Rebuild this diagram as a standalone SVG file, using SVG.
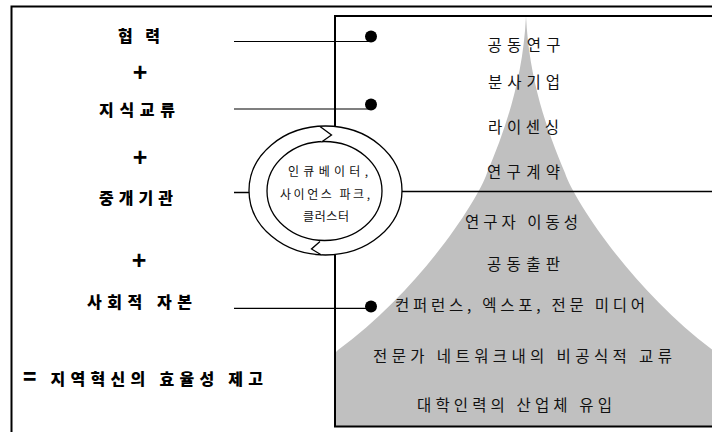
<svg xmlns="http://www.w3.org/2000/svg" width="712" height="432" viewBox="0 0 712 432">
<style>
.ln{stroke:#000;fill:none}
.lbl{font-family:"Noto Sans CJK KR","Noto Sans",sans-serif;font-weight:900;font-size:16px;fill:#000}
.plus{font-family:"Liberation Sans","DejaVu Sans",sans-serif;font-weight:900;font-size:25px;fill:#000;text-anchor:middle}
.it{font-family:"Noto Sans CJK KR","Noto Sans",sans-serif;font-size:15.5px;fill:#111;text-anchor:middle}
.ct{font-family:"Noto Sans CJK KR","Noto Sans",sans-serif;font-size:12px;fill:#111;text-anchor:middle}
.dot{fill:#000}
</style>
<rect width="712" height="432" fill="#fff"/>
<!-- outer frame -->
<path class="ln" stroke-width="2" d="M11.5,434 V6.5 H714"/>
<!-- gray mountain -->
<path id="mountain" fill="#c0c0c0" d="M526,16 C523,80 505,130 487,173 C478,200 420,290 338,350 L336,352 V426 H714 V351 C632,290 574,200 565,173 C547,130 529,80 526,16 Z"/>
<!-- inner box -->
<path class="ln" stroke-width="2" d="M714,16 H335 V126 M335,255 V426.5 H714"/>
<g id="connectors">
<path class="ln" stroke-width="1.2" d="M234,41.5 H371"/>
<path class="ln" stroke-width="1.2" d="M234,109 H371"/>
<path class="ln" stroke-width="1.5" d="M234,192.5 H250"/>
<path class="ln" stroke-width="1.5" d="M401,191.5 H712"/>
<path class="ln" stroke-width="1.2" d="M234,308.3 H371"/>
<circle class="dot" cx="371" cy="36.5" r="6"/>
<circle class="dot" cx="371" cy="104.5" r="6"/>
<circle class="dot" cx="371" cy="306.5" r="6"/>
</g>
<g id="n-hyeomnyeok"><text class="lbl" x="118" y="42" textLength="42" lengthAdjust="spacing">협 력</text></g>
<g id="plus1"><text class="plus" x="140" y="80.5">+</text></g>
<g id="n-jisik"><text class="lbl" x="99" y="116" textLength="76" lengthAdjust="spacing">지식교류</text></g>
<g id="plus2"><text class="plus" x="140" y="165.5">+</text></g>
<g id="n-junggae"><text class="lbl" x="99" y="204" textLength="74" lengthAdjust="spacing">중개기관</text></g>
<g id="plus3"><text class="plus" x="139" y="268.5">+</text></g>
<g id="n-sahoe"><text class="lbl" x="87" y="308" textLength="105" lengthAdjust="spacing">사회적 자본</text></g>
<g id="n-result"><text class="lbl" x="23" y="385" textLength="240" lengthAdjust="spacing"><tspan font-size="22">=</tspan> 지역혁신의 효율성 제고</text></g>
<g id="ring">
<ellipse cx="325.5" cy="190.5" rx="76.5" ry="64.5" fill="#fff" stroke="#000" stroke-width="1.3"/>
<ellipse cx="324.5" cy="191" rx="57.5" ry="49.5" fill="#fff" stroke="#000" stroke-width="1.3"/>
<path d="M320,126.5 L331.5,135 L321.5,142" fill="#fff" stroke="#000" stroke-width="1.3"/>
<path d="M320,241.5 L311.5,249 L321.5,255" fill="#fff" stroke="#000" stroke-width="1.3"/>
<text class="ct" x="328" y="175.5" textLength="80" lengthAdjust="spacing">인큐베이터,</text>
<text class="ct" x="325" y="198.5" textLength="90" lengthAdjust="spacing">사이언스 파크,</text>
<text class="ct" x="326" y="220.5" textLength="46" lengthAdjust="spacing">클러스터</text>
</g>
<g id="items">
<text class="it" x="524" y="51" textLength="73" lengthAdjust="spacing">공동연구</text>
<text class="it" x="524" y="88" textLength="72" lengthAdjust="spacing">분사기업</text>
<text class="it" x="523.5" y="133" textLength="71" lengthAdjust="spacing">라이센싱</text>
<text class="it" x="523.5" y="178" textLength="73" lengthAdjust="spacing">연구계약</text>
<text class="it" x="521.5" y="228" textLength="113" lengthAdjust="spacing">연구자 이동성</text>
<text class="it" x="523.5" y="270" textLength="73" lengthAdjust="spacing">공동출판</text>
<text class="it" x="520" y="311" textLength="250" lengthAdjust="spacing">컨퍼런스, 엑스포, 전문 미디어</text>
<text class="it" x="522.5" y="362" textLength="299" lengthAdjust="spacing">전문가 네트워크내의 비공식적 교류</text>
<text class="it" x="514.5" y="411" textLength="195" lengthAdjust="spacing">대학인력의 산업체 유입</text>
</g>
</svg>
